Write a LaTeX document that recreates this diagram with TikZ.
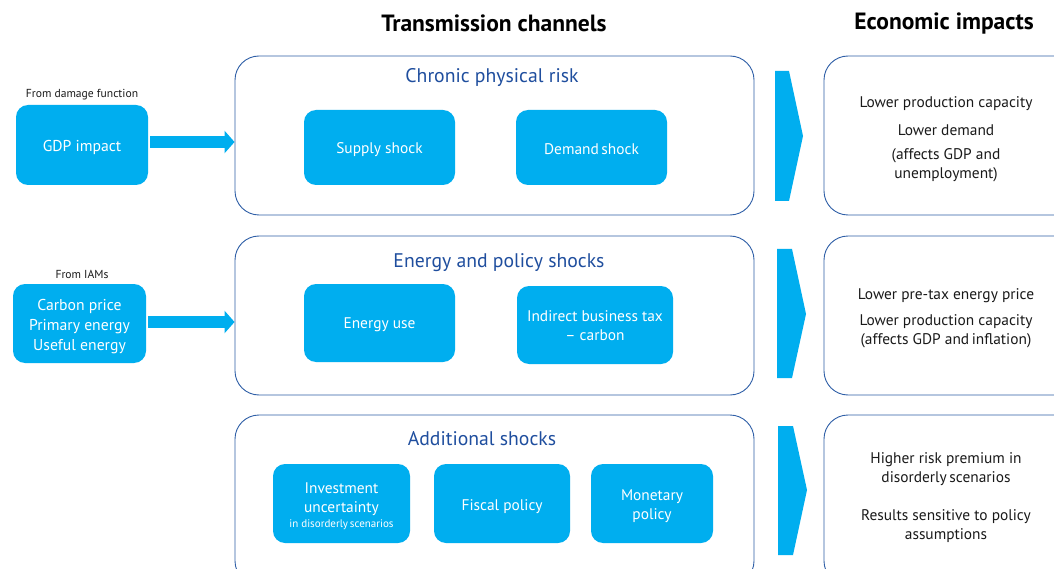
\documentclass[tikz,border=0pt]{standalone}
\usepackage{fontspec}
\setmainfont{PT Sans}
\usetikzlibrary{arrows.meta,positioning}
\definecolor{cyanfill}{HTML}{00AEEF}
\definecolor{frameblue}{HTML}{2F5FA7}
\definecolor{titleblue}{HTML}{1F4E9E}
\definecolor{txt}{HTML}{1A1A1A}
\tikzset{
  frame/.style={draw=frameblue, line width=0.9pt, rounded corners=24pt, fill=white},
  cbox/.style={fill=cyanfill, rounded corners=12pt, text=white, align=center, font=\fontsize{15.4}{19}\selectfont, inner sep=0pt},
  ftitle/.style={text=titleblue, font=\fontsize{19.7}{22}\selectfont},
  htitle/.style={text=black, font=\bfseries\fontsize{23.5}{26}\selectfont},
  rtext/.style={text=txt, align=center, font=\fontsize{15.4}{19}\selectfont},
  small/.style={text=txt, font=\fontsize{11.6}{13}\selectfont},
  fatarrow/.style={draw=cyanfill, line width=12pt, -{Triangle[length=10pt,width=22pt]}, shorten >=0pt},
  chev/.style={fill=cyanfill},
  lbl/.style={text=white, align=center, font=\fontsize{15.4}{19}\selectfont, inner sep=0pt},
}
\begin{document}
\begin{tikzpicture}[x=1pt,y=-1pt]
\useasboundingbox (0,0) rectangle (1054,569);
\clip (0,0) rectangle (1054,569);
\fill[white] (0,0) rectangle (1054,569);

% headings
\node[htitle] (ht) at (494,23) {Transmission channels};
\node[htitle] (he) at (944,23) {Economic impacts};

% frames
\node[frame, minimum width=519pt, minimum height=159pt] (f1) at (494.5,135.5) {};
\node[frame, minimum width=519pt, minimum height=159pt] (f2) at (494.5,315.5) {};
\node[frame, minimum width=519pt, minimum height=170pt] (f3) at (494.5,500) {};
\node[frame, minimum width=260pt, minimum height=159pt] (r1) at (954,135.5) {};
\node[frame, minimum width=260pt, minimum height=159pt] (r2) at (954,315.5) {};
\node[frame, minimum width=260pt, minimum height=170pt] (r3) at (954,500) {};

% frame titles
\node[ftitle] (t1) at (492,78) {Chronic physical risk};
\node[ftitle] (t2) at (499,263) {Energy and policy shocks};
\node[ftitle] (t3) at (482,438.5) {Additional shocks};

% inner boxes
\node[cbox, minimum width=151pt, minimum height=75pt] (supply) at (379.5,147.5) {};
\node[lbl] at ([yshift=-2pt]supply.center) {Supply shock};
\node[cbox, minimum width=151pt, minimum height=75pt] (demand) at (591.5,147.5) {};
\node[lbl] at ([yshift=-2pt]demand.center) {Demand\,shock};
\node[cbox, minimum width=151pt, minimum height=78pt] (energy) at (379.5,323) {};
\node[lbl] at ([yshift=-2pt]energy.center) {Energy use};
\node[cbox, minimum width=156pt, minimum height=78pt] (tax) at (595,325) {};
\node[lbl] at ([yshift=-1pt]tax.center) {Indirect business tax\\-- carbon};
\node[cbox, minimum width=137pt, minimum height=79pt] (invest) at (341.5,503.5) {};
\node[lbl] at ([yshift=-3pt]invest.center) {Investment\\uncertainty\\[-4pt]{\fontsize{11}{12}\selectfont in disorderly\,scenarios}};
\node[cbox, minimum width=136pt, minimum height=79pt] (fiscal) at (502,503.5) {};
\node[lbl] at ([yshift=-3pt]fiscal.center) {Fiscal policy};
\node[cbox, minimum width=122pt, minimum height=79pt] (monetary) at (652,503.5) {};
\node[lbl] at ([yshift=-3pt]monetary.center) {Monetary\\policy};

% left inputs
\node[small] (from1) at (82,95) {From damage function};
\node[cbox, minimum width=132pt, minimum height=80pt] (gdp) at (82,145) {};
\node[lbl, font=\fontsize{15.7}{20}\selectfont] at ([yshift=-2pt]gdp.center) {GDP impact};
\node[small] (from2) at (82,274) {From IAMs};
\node[cbox, minimum width=133pt, minimum height=79pt] (iam) at (79.5,323.5) {};
\node[lbl, font=\fontsize{15.7}{20}\selectfont] at ([yshift=-3pt]iam.center) {Carbon price\\Primary energy\\Useful energy};

\draw[fatarrow] ([xshift=2pt,yshift=3pt]gdp.east) -- ([yshift=3pt]gdp.east -| f1.west);
\draw[fatarrow] ([xshift=2pt,yshift=1.5pt]iam.east) -- ([yshift=1.5pt]iam.east -| f2.west);

% chevrons
\fill[chev] (775,71) -- (789,71) -- (803,136) -- (789,201) -- (775,201) -- cycle;
\fill[chev] (777,249) -- (792,249) -- (806,314) -- (792,378) -- (777,378) -- cycle;
\fill[chev] (778,426) -- (793,426) -- (807,490) -- (793,555) -- (778,555) -- cycle;

% right texts
\node[rtext] (e1a) at (946,104) {Lower production capacity};
\node[rtext] (e1b) at (946,130) {Lower demand};
\node[rtext] (e1c) at (946,165.5) {(affects GDP and\\unemployment)};
\node[rtext] (e2a) at (946,296) {Lower pre-tax energy price};
\node[rtext] (e2b) at (946,331.5) {Lower production capacity\\(affects GDP and\,inflation)};
\node[rtext] (e3a) at (946,469) {Higher risk premium in\\disorderly\,scenarios};
\node[rtext] (e3b) at (946,526) {Results sensitive to policy\\assumptions};
\end{tikzpicture}
\end{document}
